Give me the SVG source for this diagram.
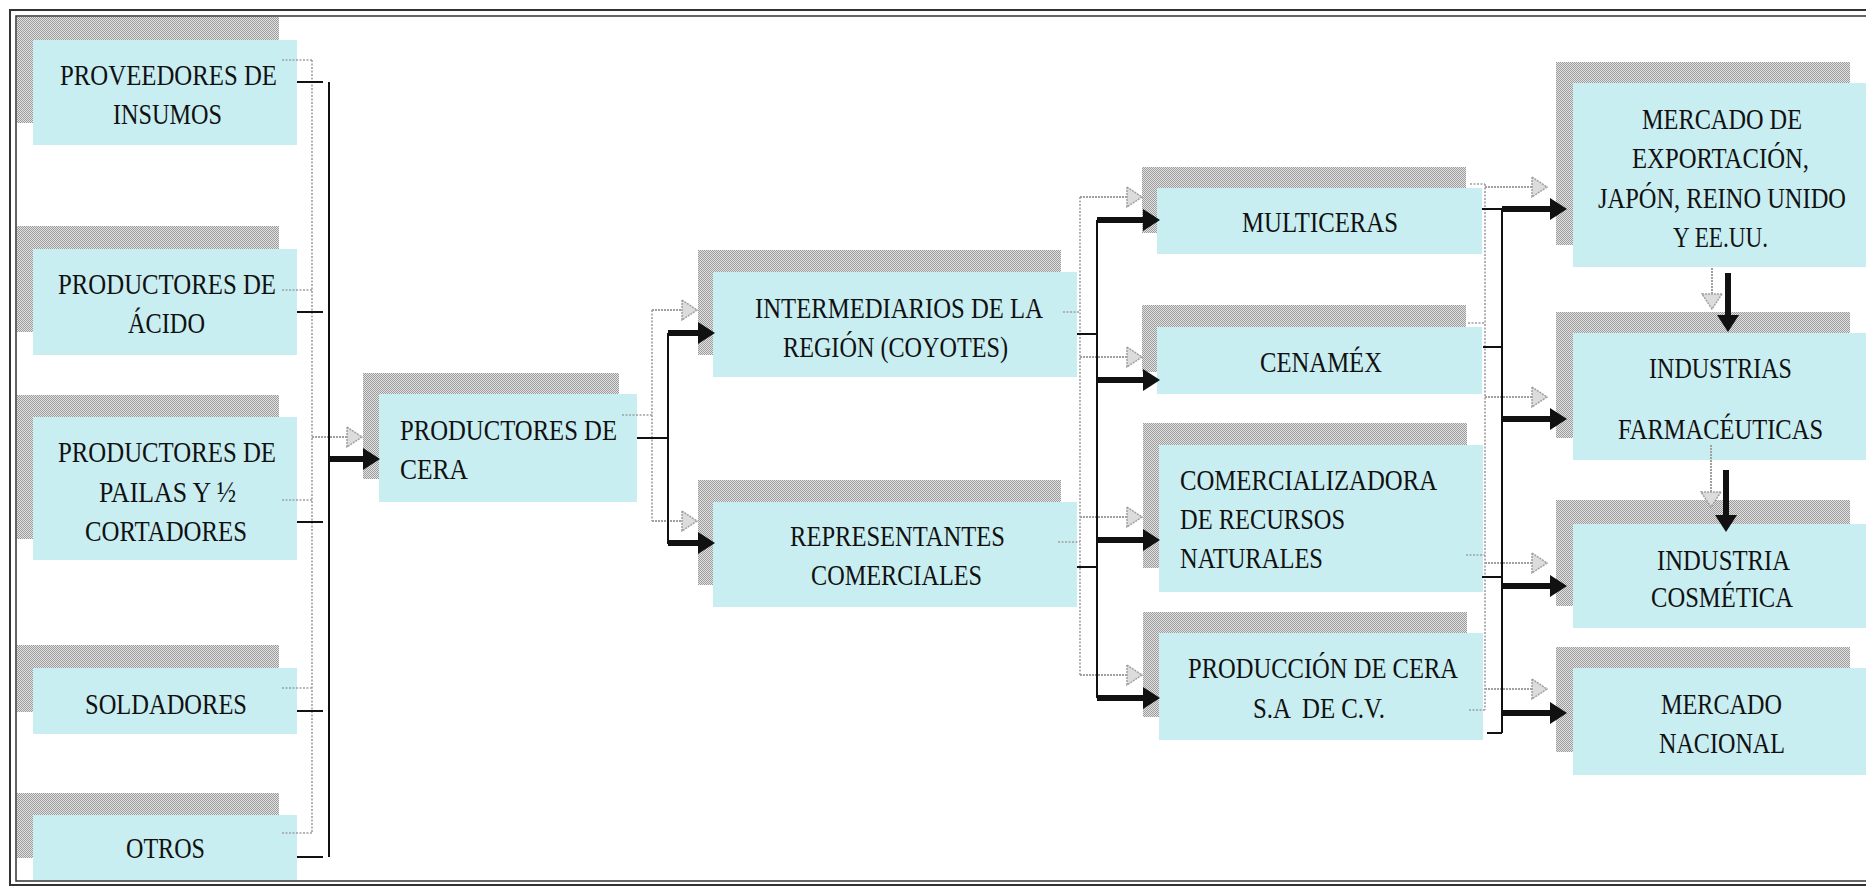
<svg xmlns="http://www.w3.org/2000/svg" width="1866" height="888" viewBox="0 0 1866 888">
<defs>
<pattern id="dith" width="2" height="2" patternUnits="userSpaceOnUse"><rect width="2" height="2" fill="#e2e2e2"/><rect width="1" height="1" fill="#9c9c9c"/><rect x="1" y="1" width="1" height="1" fill="#9c9c9c"/></pattern>
<marker id="ab" viewBox="0 0 17 22" refX="3" refY="11" markerWidth="17" markerHeight="22" markerUnits="userSpaceOnUse" orient="auto"><path d="M0,0 L17,11 L0,22 Z" fill="#111"/></marker>
<marker id="ag" viewBox="-1 -1 17 22" refX="2" refY="10" markerWidth="17" markerHeight="22" markerUnits="userSpaceOnUse" orient="auto"><path d="M0,0 L15,10 L0,20 Z" fill="#dcdcdc" stroke="#a0a0a0" stroke-width="1.5" stroke-dasharray="2 1"/></marker>
</defs>
<style>
.sh{fill:url(#dith)}
.bx{fill:#c9eef1}
.t{font-family:"Liberation Serif","Times New Roman",serif;font-size:29px;fill:#111;white-space:pre}
.k{stroke:#111;stroke-width:2;fill:none}
.kk{stroke:#111;stroke-width:6;fill:none;marker-end:url(#ab)}
.g{stroke:#a0a0a0;stroke-width:1.6;stroke-dasharray:2 1.5;fill:none}
.ga{stroke:#a0a0a0;stroke-width:2;stroke-dasharray:2 1;fill:none;marker-end:url(#ag)}
.fr{fill:none;stroke:#333}
</style>
<rect width="1866" height="888" fill="#fff"/>
<g id="frame">
<rect class="fr" x="10" y="10" width="1900" height="875" stroke-width="2"/>
<rect class="fr" x="16" y="16" width="1890" height="865" stroke-width="1.5"/>
</g>

<g id="n-proveedores">
<rect class="sh" x="17" y="17" width="262" height="106"/>
<rect class="bx" x="33" y="40" width="264" height="105"/>
<text class="t" x="60" y="85" textLength="217" lengthAdjust="spacingAndGlyphs">PROVEEDORES DE</text>
<text class="t" x="113" y="124" textLength="109" lengthAdjust="spacingAndGlyphs">INSUMOS</text>
</g>
<g id="n-acido">
<rect class="sh" x="17" y="226" width="262" height="106"/>
<rect class="bx" x="33" y="249" width="264" height="106"/>
<text class="t" x="58" y="294" textLength="218" lengthAdjust="spacingAndGlyphs">PRODUCTORES DE</text>
<text class="t" x="128" y="333" textLength="77" lengthAdjust="spacingAndGlyphs">ÁCIDO</text>
</g>
<g id="n-pailas">
<rect class="sh" x="17" y="395" width="262" height="144"/>
<rect class="bx" x="33" y="417" width="264" height="143"/>
<text class="t" x="58" y="462" textLength="218" lengthAdjust="spacingAndGlyphs">PRODUCTORES DE</text>
<text class="t" x="99" y="502" textLength="137" lengthAdjust="spacingAndGlyphs">PAILAS Y ½</text>
<text class="t" x="85" y="541" textLength="162" lengthAdjust="spacingAndGlyphs">CORTADORES</text>
</g>
<g id="n-soldadores">
<rect class="sh" x="17" y="645" width="262" height="67"/>
<rect class="bx" x="33" y="668" width="264" height="66"/>
<text class="t" x="85" y="714" textLength="162" lengthAdjust="spacingAndGlyphs">SOLDADORES</text>
</g>
<g id="n-otros">
<rect class="sh" x="17" y="793" width="262" height="65"/>
<rect class="bx" x="33" y="815" width="264" height="65"/>
<text class="t" x="126" y="858" textLength="79" lengthAdjust="spacingAndGlyphs">OTROS</text>
</g>

<g id="n-cera">
<rect class="sh" x="363" y="373" width="256" height="106"/>
<rect class="bx" x="379" y="394" width="258" height="108"/>
<text class="t" x="400" y="440" textLength="217" lengthAdjust="spacingAndGlyphs">PRODUCTORES DE</text>
<text class="t" x="400" y="479" textLength="68" lengthAdjust="spacingAndGlyphs">CERA</text>
</g>

<g id="n-intermediarios">
<rect class="sh" x="698" y="250" width="363" height="105"/>
<rect class="bx" x="713" y="272" width="364" height="105"/>
<text class="t" x="755" y="318" textLength="288" lengthAdjust="spacingAndGlyphs">INTERMEDIARIOS DE LA</text>
<text class="t" x="783" y="357" textLength="225" lengthAdjust="spacingAndGlyphs">REGIÓN (COYOTES)</text>
</g>
<g id="n-representantes">
<rect class="sh" x="698" y="480" width="363" height="105"/>
<rect class="bx" x="713" y="502" width="364" height="105"/>
<text class="t" x="790" y="546" textLength="215" lengthAdjust="spacingAndGlyphs">REPRESENTANTES</text>
<text class="t" x="811" y="585" textLength="171" lengthAdjust="spacingAndGlyphs">COMERCIALES</text>
</g>

<g id="n-multiceras">
<rect class="sh" x="1142" y="167" width="324" height="66"/>
<rect class="bx" x="1157" y="188" width="325" height="66"/>
<text class="t" x="1242" y="232" textLength="156" lengthAdjust="spacingAndGlyphs">MULTICERAS</text>
</g>
<g id="n-cenamex">
<rect class="sh" x="1142" y="305" width="324" height="67"/>
<rect class="bx" x="1157" y="327" width="325" height="67"/>
<text class="t" x="1260" y="372" textLength="122" lengthAdjust="spacingAndGlyphs">CENAMÉX</text>
</g>
<g id="n-comercializadora">
<rect class="sh" x="1143" y="423" width="324" height="145"/>
<rect class="bx" x="1159" y="445" width="324" height="147"/>
<text class="t" x="1180" y="490" textLength="257" lengthAdjust="spacingAndGlyphs">COMERCIALIZADORA</text>
<text class="t" x="1180" y="529" textLength="165" lengthAdjust="spacingAndGlyphs">DE RECURSOS</text>
<text class="t" x="1180" y="568" textLength="143" lengthAdjust="spacingAndGlyphs">NATURALES</text>
</g>
<g id="n-produccion">
<rect class="sh" x="1143" y="612" width="324" height="105"/>
<rect class="bx" x="1159" y="633" width="324" height="107"/>
<text class="t" x="1188" y="678" textLength="270" lengthAdjust="spacingAndGlyphs">PRODUCCIÓN DE CERA</text>
<text class="t" x="1253" y="718" textLength="132" lengthAdjust="spacingAndGlyphs">S.A  DE C.V.</text>
</g>

<g id="n-exportacion">
<rect class="sh" x="1556" y="62" width="294" height="183"/>
<rect class="bx" x="1573" y="83" width="300" height="184"/>
<text class="t" x="1642" y="129" textLength="160" lengthAdjust="spacingAndGlyphs">MERCADO DE</text>
<text class="t" x="1632" y="168" textLength="177" lengthAdjust="spacingAndGlyphs">EXPORTACIÓN,</text>
<text class="t" x="1598" y="208" textLength="248" lengthAdjust="spacingAndGlyphs">JAPÓN, REINO UNIDO</text>
<text class="t" x="1673" y="247" textLength="95" lengthAdjust="spacingAndGlyphs">Y EE.UU.</text>
</g>
<g id="n-farmaceuticas">
<rect class="sh" x="1556" y="312" width="294" height="126"/>
<rect class="bx" x="1573" y="333" width="300" height="127"/>
<text class="t" x="1649" y="378" textLength="143" lengthAdjust="spacingAndGlyphs">INDUSTRIAS</text>
<text class="t" x="1618" y="439" textLength="205" lengthAdjust="spacingAndGlyphs">FARMACÉUTICAS</text>
</g>
<g id="n-cosmetica">
<rect class="sh" x="1556" y="500" width="294" height="106"/>
<rect class="bx" x="1573" y="524" width="300" height="104"/>
<text class="t" x="1657" y="570" textLength="133" lengthAdjust="spacingAndGlyphs">INDUSTRIA</text>
<text class="t" x="1651" y="607" textLength="142" lengthAdjust="spacingAndGlyphs">COSMÉTICA</text>
</g>
<g id="n-nacional">
<rect class="sh" x="1556" y="647" width="294" height="105"/>
<rect class="bx" x="1573" y="668" width="300" height="107"/>
<text class="t" x="1661" y="714" textLength="121" lengthAdjust="spacingAndGlyphs">MERCADO</text>
<text class="t" x="1659" y="753" textLength="126" lengthAdjust="spacingAndGlyphs">NACIONAL</text>
</g>

<g id="connectors">
<path class="g" d="M282,60H312M282,290H312M282,500H312M282,688H312M282,833H312M312,60V833"/>
<path class="ga" d="M312,437H349"/>
<path class="k" d="M297,82H323M297,312H323M297,522H323M297,711H323M297,857H323M329,82V857"/>
<path class="kk" d="M329,459H366"/>
<path class="g" d="M622,415H652M652,310V521"/>
<path class="ga" d="M652,310H684"/>
<path class="ga" d="M652,521H684"/>
<path class="k" d="M637,438H668M668,333V544"/>
<path class="kk" d="M668,333H701"/>
<path class="kk" d="M668,543H701"/>
<path class="g" d="M1063,312H1080M1058,542H1080M1080,197V675"/>
<path class="ga" d="M1080,197H1129"/>
<path class="ga" d="M1080,357H1129"/>
<path class="ga" d="M1080,517H1129"/>
<path class="ga" d="M1080,675H1129"/>
<path class="k" d="M1077,334H1097M1077,567H1097M1097,220V698"/>
<path class="kk" d="M1097,220H1146"/>
<path class="kk" d="M1097,380H1146"/>
<path class="kk" d="M1097,540H1146"/>
<path class="kk" d="M1097,698H1146"/>
<path class="g" d="M1470,184H1485M1468,323H1485M1466,555H1485M1469,710H1485M1485,184V710"/>
<path class="ga" d="M1485,187H1534"/>
<path class="ga" d="M1485,397H1534"/>
<path class="ga" d="M1485,563H1534"/>
<path class="ga" d="M1485,689H1534"/>
<path class="k" d="M1482,209H1502M1483,347H1502M1482,577H1502M1487,733H1502M1502,209V733"/>
<path class="kk" d="M1502,209H1553"/>
<path class="kk" d="M1502,419H1553"/>
<path class="kk" d="M1502,586H1553"/>
<path class="kk" d="M1502,713H1553"/>
<path class="ga" d="M1712,268V296"/>
<path class="ga" d="M1711,445V494"/>
<path class="kk" d="M1728,273V318"/>
<path class="kk" d="M1726,470V518"/>
</g>
</svg>
